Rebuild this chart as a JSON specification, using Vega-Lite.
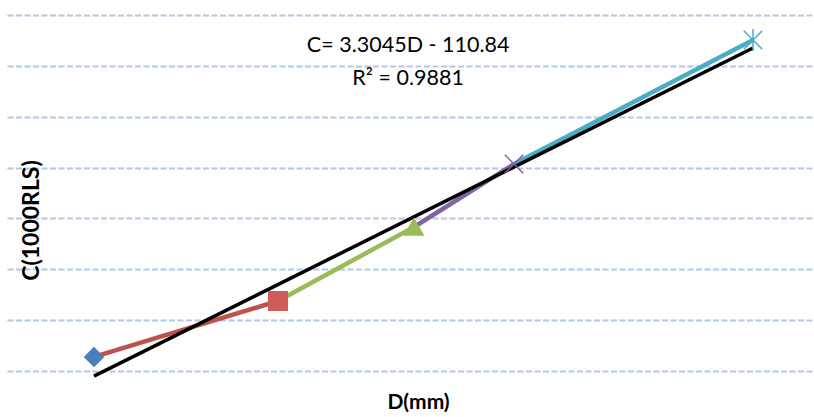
{
  "$schema": "https://vega.github.io/schema/vega-lite/v6.json",
  "width": 807,
  "height": 356,
  "autosize": {"type": "none"},
  "padding": {"left": 7, "top": 15, "right": 0, "bottom": 46},
  "background": "white",
  "config": {"view": {"stroke": null}, "font": "Lato"},
  "encoding": {
    "x": {
      "field": "D",
      "type": "quantitative",
      "scale": {"domain": [19.1, 138.6], "nice": false, "zero": false},
      "axis": {
        "grid": false, "labels": false, "ticks": false, "domain": false,
        "title": "D(mm)", "titleFontSize": 21, "titleFontWeight": "bold",
        "titleX": 411, "titleY": 31, "titleBaseline": "middle", "titleAlign": "center",
        "titleColor": "#000000", "titleFont": "Lato"
      }
    },
    "y": {
      "field": "C",
      "type": "quantitative",
      "scale": {"domain": [0, 350], "nice": false, "zero": false},
      "axis": {
        "values": [0, 50, 100, 150, 200, 250, 300, 350],
        "grid": true, "gridDash": [6, 2.5], "gridColor": "#b4c7e7", "gridWidth": 2,
        "labels": false, "ticks": false, "domain": false,
        "title": "C(1000RLS)", "titleFontSize": 23, "titleFontWeight": "bold",
        "titleX": 24, "titleY": 205, "titleAngle": -90, "titleBaseline": "middle", "titleAlign": "center",
        "titleColor": "#000000", "titleFont": "Lato"
      }
    }
  },
  "layer": [
    {
      "data": {"values": [
        {"series": "S1", "D": 31.98, "C": 13.8},
        {"series": "S1", "D": 59.23, "C": 68.8},
        {"series": "S2", "D": 59.23, "C": 68.8},
        {"series": "S2", "D": 79.37, "C": 141.6},
        {"series": "S3", "D": 79.37, "C": 141.6},
        {"series": "S3", "D": 94.18, "C": 203.5},
        {"series": "S4", "D": 94.18, "C": 203.5},
        {"series": "S4", "D": 129.57, "C": 325.4}
      ]},
      "mark": {"type": "line", "strokeWidth": 4.5, "strokeCap": "butt"},
      "encoding": {
        "color": {
          "field": "series", "type": "nominal",
          "scale": {"domain": ["S1", "S2", "S3", "S4"], "range": ["#c0504d", "#9bbb59", "#8064a2", "#4bacc6"]},
          "legend": null
        }
      }
    },
    {
      "data": {"values": [
        {"D": 31.98, "C": -5.0},
        {"D": 129.57, "C": 317.5}
      ]},
      "mark": {"type": "line", "strokeWidth": 3.5, "color": "#000000", "strokeCap": "butt"}
    },
    {
      "data": {"values": [
        {"m": "diamond", "D": 31.98, "C": 13.8},
        {"m": "square", "D": 59.23, "C": 68.8},
        {"m": "triangle", "D": 79.37, "C": 141.6},
        {"m": "x", "D": 94.18, "C": 203.5},
        {"m": "star", "D": 129.57, "C": 325.4}
      ]},
      "mark": {"type": "point", "filled": true, "size": 340, "strokeWidth": 1.5, "opacity": 1},
      "encoding": {
        "shape": {
          "field": "m", "type": "nominal",
          "scale": {
            "domain": ["diamond", "square", "triangle", "x", "star"],
            "range": ["diamond", "square", "triangle-up", "M-1,-1L1,1M-1,1L1,-1", "M-1,-1L1,1M-1,1L1,-1M0,-1.2L0,1.2"]
          },
          "legend": null
        },
        "fill": {
          "field": "m", "type": "nominal",
          "scale": {
            "domain": ["diamond", "square", "triangle", "x", "star"],
            "range": ["#4a7ebb", "#cd5c5a", "#9bbb59", "transparent", "transparent"]
          },
          "legend": null
        },
        "stroke": {
          "field": "m", "type": "nominal",
          "scale": {
            "domain": ["diamond", "square", "triangle", "x", "star"],
            "range": ["#4a7ebb", "#cd5c5a", "#9bbb59", "#8064a2", "#4bacc6"]
          },
          "legend": null
        }
      }
    },
    {
      "data": {"values": [
        {"label": "C= 3.3045D - 110.84", "D": 78.5, "C": 313.6},
        {"label": "R² = 0.9881", "D": 78.5, "C": 281.2}
      ]},
      "mark": {
        "type": "text",
        "align": "center",
        "baseline": "alphabetic",
        "fontSize": 21.5,
        "font": "Lato",
        "color": "#000000"
      },
      "encoding": {
        "text": {"field": "label", "type": "nominal"}
      }
    }
  ]
}
